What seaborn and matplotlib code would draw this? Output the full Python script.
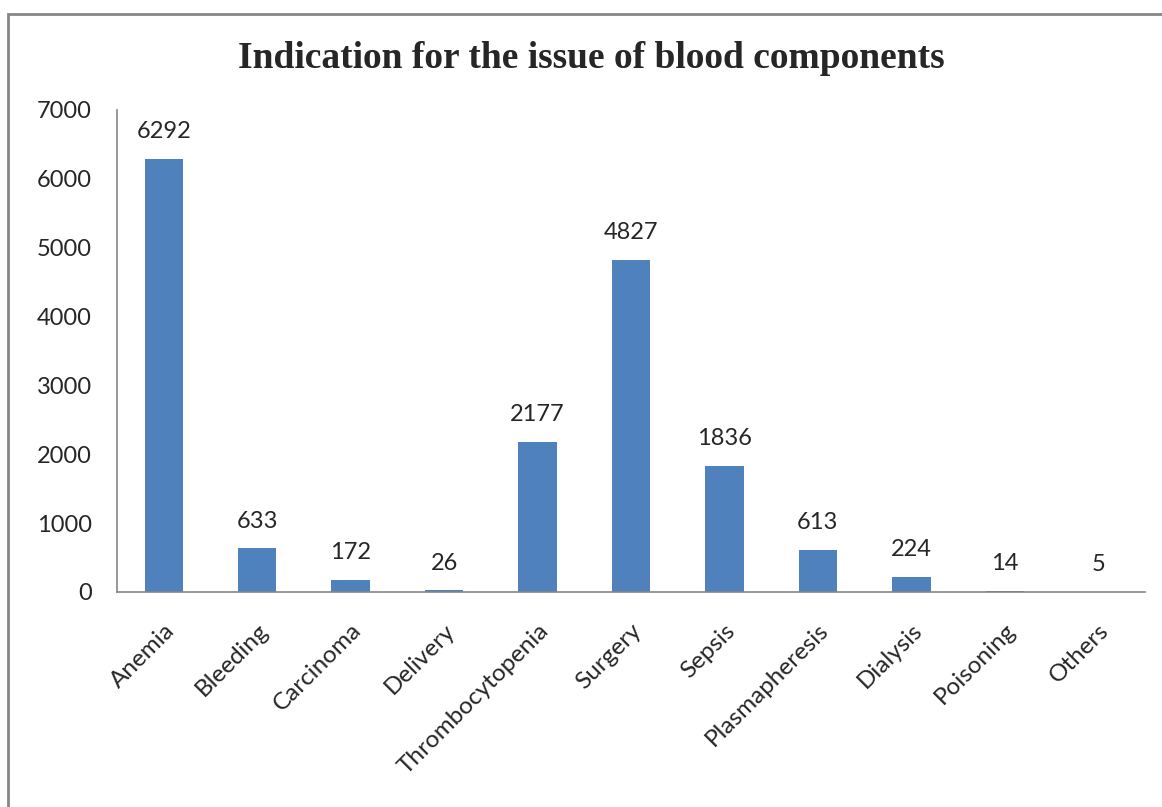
import matplotlib
matplotlib.use("Agg")
import matplotlib.pyplot as plt
import seaborn as sns
import pandas as pd
from matplotlib.patches import Rectangle

categories = ["Anemia", "Bleeding", "Carcinoma", "Delivery", "Thrombocytopenia",
              "Surgery", "Sepsis", "Plasmapheresis", "Dialysis", "Poisoning", "Others"]
values = [6292, 633, 172, 26, 2177, 4827, 1836, 613, 224, 14, 5]
yticks = [0, 1000, 2000, 3000, 4000, 5000, 6000, 7000]
title = "Indication for the issue of blood components"

df = pd.DataFrame({"cat": categories, "val": values})

sns.set_style("white")
plt.rcParams["font.family"] = ["Lato", "DejaVu Sans"]

W, H = 1162, 807
fig = plt.figure(figsize=(W / 100, H / 100), dpi=100)
ax = fig.add_axes([117 / W, 1 - 592 / H, (1145 - 117) / W, (592 - 110) / H])

sns.barplot(data=df, x="cat", y="val", color="#4F81BD", width=0.41, ax=ax,
            saturation=1, linewidth=0)

n = len(categories)
ax.set_xlim(-0.5, n - 0.5)
ax.set_ylim(0, 7000)
ax.set_yticks(yticks)
ax.set_yticklabels([str(t) for t in yticks], fontsize=17)
ax.set_xticks([i - 0.5 for i in range(n + 1)], minor=False)
ax.set_xticklabels([])
ax.set_xticks(range(n), minor=True)
ax.set_xticklabels(categories, minor=True, rotation=45, ha="right",
                   rotation_mode="anchor", fontsize=17.5)
ax.tick_params(axis="x", which="minor", length=0, pad=20)
ax.tick_params(axis="x", which="major", length=7, width=1.2, color="#868686", direction="out")
ax.tick_params(axis="y", length=6, width=1.2, color="#868686", direction="out", pad=12)
ax.set_xlabel("")
ax.set_ylabel("")

for s in ["top", "right"]:
    ax.spines[s].set_visible(False)
for s in ["left", "bottom"]:
    ax.spines[s].set_color("#868686")
    ax.spines[s].set_linewidth(1.2)

for i, v in enumerate(values):
    ax.annotate(str(v), (i, v), xytext=(0, 12), textcoords="offset points",
                ha="center", va="bottom", fontsize=17)

fig.text(591 / W, 1 - 58 / H, title, ha="center", va="center",
         fontsize=27, fontweight="bold", family=["Liberation Serif", "DejaVu Serif"])

fig.patches.append(Rectangle((8 / W, -0.1), 1.2, 1 - 14 / H + 0.1,
                             transform=fig.transFigure, fill=False,
                             edgecolor="#868686", linewidth=2))

fig.savefig("out.png", dpi=100)
